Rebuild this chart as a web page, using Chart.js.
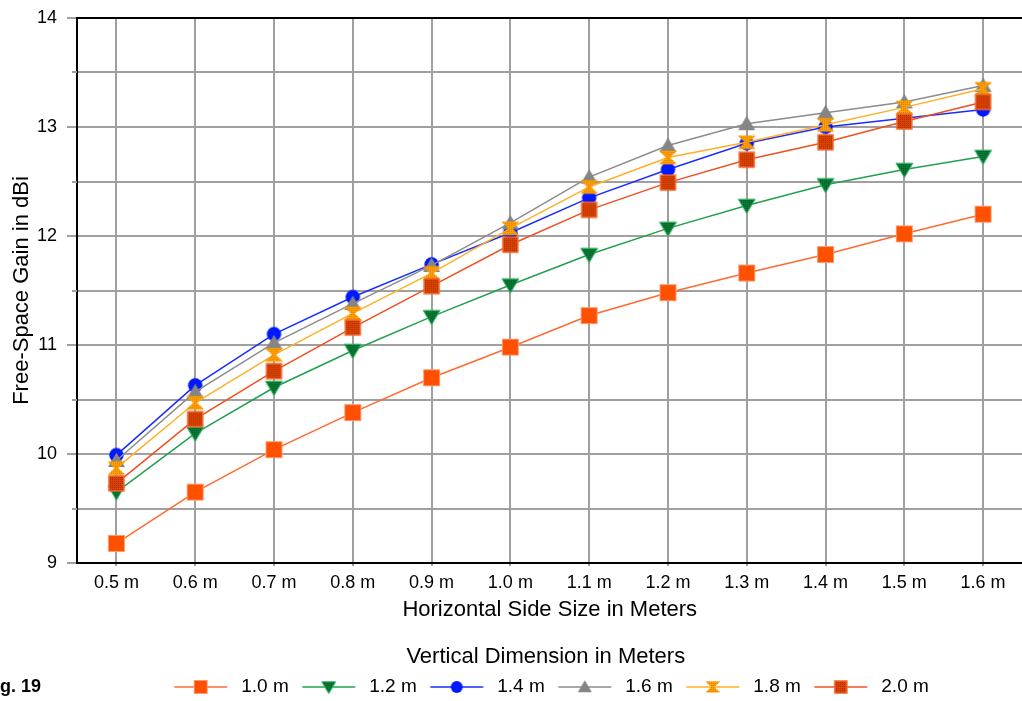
<!DOCTYPE html>
<html>
<head>
<meta charset="utf-8">
<script src="https://cdn.jsdelivr.net/npm/chart.js@4.4.0/dist/chart.umd.min.js"></script>
<style>
  html, body { margin: 0; padding: 0; background: #fff; overflow: hidden; }
  /* a bit wider than the window: Chart.js keeps a small gap at the right,
     the reference plot runs to the window edge */
  #wrap { width: 1032px; height: 701px; position: relative; }
</style>
</head>
<body>
<div id="wrap"><canvas id="gainChart"></canvas></div>
<script>
// horizontal side sizes (x axis categories)
const sideSizes = ['0.5 m', '0.6 m', '0.7 m', '0.8 m', '0.9 m', '1.0 m',
                   '1.1 m', '1.2 m', '1.3 m', '1.4 m', '1.5 m', '1.6 m'];

// free-space gain in dBi, one array per vertical dimension
const gainV10 = [9.18, 9.65, 10.04, 10.38, 10.70, 10.98, 11.27, 11.48, 11.66, 11.83, 12.02, 12.20];
const gainV12 = [9.65, 10.19, 10.61, 10.95, 11.26, 11.55, 11.83, 12.07, 12.28, 12.47, 12.61, 12.73];
const gainV14 = [9.99, 10.63, 11.10, 11.44, 11.74, 12.03, 12.35, 12.61, 12.85, 13.00, 13.08, 13.16];
const gainV16 = [9.94, 10.57, 11.02, 11.38, 11.73, 12.12, 12.54, 12.83, 13.03, 13.13, 13.23, 13.38];
const gainV18 = [9.87, 10.47, 10.91, 11.29, 11.66, 12.07, 12.45, 12.72, 12.86, 13.02, 13.18, 13.35];
const gainV20 = [9.73, 10.32, 10.76, 11.16, 11.54, 11.92, 12.24, 12.49, 12.70, 12.86, 13.05, 13.23];

const seriesNames = ['1.0 m', '1.2 m', '1.4 m', '1.6 m', '1.8 m', '2.0 m'];

const FONT = '"Liberation Sans", Arial, sans-serif';
const GRID = '#a0a0a0';

// marker look for each series
const markerKinds = ['square', 'down', 'circle', 'up', 'hourglass', 'dotSquare'];
const lineColors = ['#ff6a30', '#22a050', '#1a2cff', '#8c8c8c', '#ffb02a', '#f05020'];

function dots(g, x0, y0, w, h, color) {
  g.fillStyle = color;
  for (let y = Math.ceil(y0) + 1; y < y0 + h - 1; y += 2) {
    for (let x = Math.ceil(x0) + 1; x < x0 + w - 1; x += 2) g.fillRect(x, y, 1, 1);
  }
}

// builds a small canvas with the marker; for the legend a line runs through it
// (lineFrom/lineLen place that line inside a wider canvas)
function makeMarker(kind, s, lineColor, boxW, lineFrom, lineLen) {
  const w = boxW || s + 4;
  const h = s + 4;
  const cv = document.createElement('canvas');
  cv.width = w; cv.height = h;
  const g = cv.getContext('2d');
  const cx = boxW ? lineFrom + lineLen / 2 : w / 2;
  const cy = h / 2, r = s / 2;

  if (boxW) {
    g.strokeStyle = lineColor;
    g.lineWidth = 1.5;
    g.beginPath(); g.moveTo(lineFrom, cy); g.lineTo(lineFrom + lineLen, cy); g.stroke();
  }

  g.save();
  if (kind === 'square') {
    g.fillStyle = '#ff5000';
    g.fillRect(cx - r, cy - r, s, s);
    g.strokeStyle = '#ff9a70'; g.lineWidth = 1;
    g.strokeRect(cx - r + 0.5, cy - r + 0.5, s - 1, s - 1);
  } else if (kind === 'dotSquare') {
    const q = r * 0.94;
    g.fillStyle = '#dc4400';
    g.fillRect(cx - q, cy - q, 2 * q, 2 * q);
    dots(g, cx - q, cy - q, 2 * q, 2 * q, '#a82c00');
    g.strokeStyle = '#ff7a48'; g.lineWidth = 1;
    g.strokeRect(cx - q + 0.5, cy - q + 0.5, 2 * q - 1, 2 * q - 1);
  } else if (kind === 'down') {
    const tri = () => {
      g.beginPath();
      g.moveTo(cx - r, cy - r * 0.75);
      g.lineTo(cx + r, cy - r * 0.75);
      g.lineTo(cx, cy + r * 0.95);
      g.closePath();
    };
    tri();
    g.fillStyle = '#0a7a35'; g.fill();
    g.clip();
    dots(g, cx - r, cy - r, s, s, '#005a20');
    g.restore(); g.save();
    tri();
    g.strokeStyle = '#3cb868'; g.lineWidth = 1; g.stroke();
  } else if (kind === 'up') {
    g.beginPath();
    g.moveTo(cx, cy - r * 0.95);
    g.lineTo(cx + r, cy + r * 0.75);
    g.lineTo(cx - r, cy + r * 0.75);
    g.closePath();
    g.fillStyle = '#858585'; g.fill();
  } else if (kind === 'circle') {
    g.beginPath();
    g.arc(cx, cy, r * 0.85, 0, Math.PI * 2);
    g.fillStyle = '#0018ff'; g.fill();
  } else if (kind === 'hourglass') {
    g.beginPath();
    g.moveTo(cx - r * 1.05, cy - r * 0.8);
    g.lineTo(cx + r * 1.05, cy - r * 0.8);
    g.lineTo(cx + r * 0.22, cy);
    g.lineTo(cx + r * 1.05, cy + r * 0.8);
    g.lineTo(cx - r * 1.05, cy + r * 0.8);
    g.lineTo(cx - r * 0.22, cy);
    g.closePath();
    g.fillStyle = '#ffa200'; g.fill();
    g.clip();
    dots(g, cx - r * 1.1, cy - r, s * 1.1, s, '#e07800');
  }
  g.restore();
  return cv;
}

// legend entry: 53px line with the marker, then the text 14px further right
const LEG_BOX = 69;
const LEG_LINE = 53;
const pointIcons = markerKinds.map((k, i) => makeMarker(k, 17, lineColors[i]));
const legendIcons = markerKinds.map((k, i) =>
  makeMarker(k, 14, lineColors[i], LEG_BOX, LEG_BOX - 4.5 - LEG_LINE, LEG_LINE));

const seriesData = [gainV10, gainV12, gainV14, gainV16, gainV18, gainV20];

const datasets = seriesData.map((vals, i) => ({
  label: seriesNames[i],
  data: vals,
  borderColor: lineColors[i],
  backgroundColor: lineColors[i],
  borderWidth: 1.5,
  pointStyle: pointIcons[i],
  pointRadius: 8,
  pointHoverRadius: 8,
  tension: 0,
  fill: false,
  order: seriesData.length - i   // later series drawn on top
}));

// clipped "Fig. 19" caption, shorter minor tick marks, small legend nudge
const figCaption = {
  id: 'figCaption',
  afterLayout(chart) {
    const lg = chart.legend;
    if (lg) { lg.left -= 4; lg.right -= 4; }
  },
  afterDraw(chart) {
    const c = chart.ctx;
    const ys = chart.scales.y;
    c.save();
    c.strokeStyle = GRID;
    c.lineWidth = 2;
    ys.ticks.forEach(t => {
      if (Number.isInteger(t.value)) return;
      const py = Math.round(ys.getPixelForValue(t.value));
      c.beginPath();
      c.moveTo(ys.right - 5, py);
      c.lineTo(ys.right, py);
      c.stroke();
    });
    c.restore();

    const boxes = chart.legend && chart.legend.legendHitBoxes;
    if (!boxes || !boxes.length) return;
    const y = boxes[0].top + boxes[0].height / 2;
    c.save();
    c.font = 'bold 18px ' + FONT;
    c.fillStyle = '#000';
    c.textBaseline = 'middle';
    c.fillText('g. 19', 0, y);
    c.restore();
  }
};

new Chart(document.getElementById('gainChart'), {
  type: 'line',
  data: { labels: sideSizes, datasets: datasets },
  plugins: [figCaption],
  options: {
    responsive: true,
    maintainAspectRatio: false,
    animation: false,
    devicePixelRatio: 1,
    layout: { padding: { top: 18, right: 0, bottom: -5.5, left: 0 } },
    plugins: {
      tooltip: { enabled: false },
      legend: {
        position: 'bottom',
        fullSize: false,
        title: {
          display: true,
          text: 'Vertical Dimension in Meters',
          color: '#000',
          font: { family: FONT, size: 22 },
          padding: { top: 22.6, bottom: 3.3 }
        },
        labels: {
          usePointStyle: true,
          pointStyleWidth: LEG_BOX,
          padding: 2,
          color: '#000',
          font: { family: FONT, size: 19 },
          generateLabels: chart => chart.data.datasets.map((ds, i) => ({
            text: ds.label,
            pointStyle: legendIcons[i],
            fillStyle: 'transparent',
            strokeStyle: 'transparent',
            lineWidth: 0,
            hidden: false,
            datasetIndex: i,
            fontColor: '#000'
          }))
        }
      }
    },
    scales: {
      x: {
        offset: true,
        grid: { offset: false, color: GRID, lineWidth: 2, tickLength: 3 },
        border: { color: '#000', width: 2 },
        ticks: { color: '#000', padding: 6, autoSkip: false, maxRotation: 0,
                 font: { family: FONT, size: 18 } },
        title: {
          display: true,
          text: 'Horizontal Side Size in Meters',
          color: '#000',
          font: { family: FONT, size: 22 },
          padding: { top: -2.8, bottom: 0 }
        }
      },
      y: {
        min: 9,
        max: 14,
        afterFit: s => { s.paddingTop = 0; s.paddingBottom = 0; },
        grid: {
          color: c => (c.tick && c.tick.value === 14) ? '#000' : GRID,
          // minor (half-unit) tick marks are drawn shorter by the plugin above
          tickColor: c => (c.tick && Number.isInteger(c.tick.value)) ? GRID : 'rgba(0,0,0,0)',
          lineWidth: 2,
          tickLength: 10
        },
        border: { color: '#000', width: 2 },
        ticks: {
          stepSize: 0.5,
          autoSkip: false,
          padding: 10,
          color: '#000',
          font: { family: FONT, size: 18 },
          callback: v => Number.isInteger(v) ? String(v) : ''
        },
        title: {
          display: true,
          text: 'Free-Space Gain in dBi',
          color: '#000',
          font: { family: FONT, size: 22 },
          padding: { top: 8.3, bottom: -7.7 }
        }
      }
    }
  }
});
</script>
</body>
</html>
